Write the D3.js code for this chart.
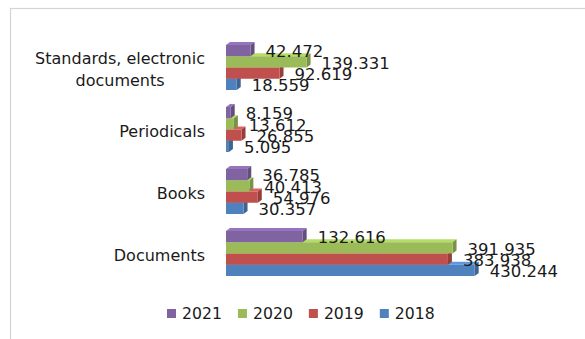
<!DOCTYPE html>
<html>
<head>
<meta charset="utf-8">
<script src="https://cdn.jsdelivr.net/npm/d3@7"></script>
<style>
  body { margin: 0; background: #fff; }
  text { font-family: "DejaVu Sans", sans-serif; fill: #1a1a1a; }
</style>
</head>
<body>
<div id="chart"></div>
<script>
// categories top to bottom, series top to bottom inside each group
var categories = ['Standards, electronic documents', 'Periodicals', 'Books', 'Documents'];
var years = ['2021', '2020', '2019', '2018'];
var legendYears = ['2021', '2020', '2019', '2018'];

var v2021 = [42.472, 8.159, 36.785, 132.616];
var v2020 = [139.331, 13.612, 40.413, 391.935];
var v2019 = [92.619, 26.855, 54.976, 383.938];
var v2018 = [18.559, 5.095, 30.357, 430.244];

var series = {'2021': v2021, '2020': v2020, '2019': v2019, '2018': v2018};
var colors = {'2021': '#8064a2', '2020': '#9bbb59', '2019': '#c0504d', '2018': '#4f81bd'};

var w = 585;
var h = 339;
var depth = {dx: 4, dy: -3};

var svg = d3.select('#chart')
  .append('svg')
  .attr('width', w)
  .attr('height', h);

// chart area border
svg.append('rect')
  .attr('x', 10.5)
  .attr('y', 8.5)
  .attr('width', 700)
  .attr('height', 500)
  .attr('fill', 'none')
  .attr('stroke', '#d4d4d4')
  .attr('stroke-width', 1.2);

var x = d3.scaleLinear()
  .domain([0, 500])
  .range([226, 515]);

var y = d3.scaleBand()
  .domain(categories)
  .range([36.5, 284.5])
  .paddingInner(0.274)
  .paddingOuter(0.137);

var yInner = d3.scaleBand()
  .domain(years)
  .range([0, y.bandwidth()]);

var rows = [];
categories.forEach(function(c, i) {
  years.forEach(function(yr) {
    rows.push({cat: c, year: yr, value: series[yr][i]});
  });
});
// draw bottom series first so upper bars sit on top
rows.sort(function(a, b) { return years.indexOf(b.year) - years.indexOf(a.year); });

var bars = svg.append('g');

rows.forEach(function(d) {
  var x0 = x(0), x1 = x(d.value);
  var y0 = y(d.cat) + yInner(d.year), bh = yInner.bandwidth();
  var c = d3.color(colors[d.year]);
  var g = bars.append('g');
  // top face
  g.append('path')
    .attr('d', 'M' + x0 + ',' + y0 + 'L' + (x0 + depth.dx) + ',' + (y0 + depth.dy) +
      'L' + (x1 + depth.dx) + ',' + (y0 + depth.dy) + 'L' + x1 + ',' + y0 + 'Z')
    .attr('fill', c.brighter(0.45));
  // side face
  g.append('path')
    .attr('d', 'M' + x1 + ',' + y0 + 'L' + (x1 + depth.dx) + ',' + (y0 + depth.dy) +
      'L' + (x1 + depth.dx) + ',' + (y0 + bh + depth.dy) + 'L' + x1 + ',' + (y0 + bh) + 'Z')
    .attr('fill', c.darker(0.7));
  // front face
  g.append('rect')
    .attr('x', x0)
    .attr('y', y0)
    .attr('width', x1 - x0)
    .attr('height', bh)
    .attr('fill', c);
});

// value labels
svg.append('g')
  .selectAll('text')
  .data(rows)
  .enter()
  .append('text')
  .attr('x', d => x(d.value) + 15)
  .attr('y', d => y(d.cat) + yInner(d.year) + yInner.bandwidth() / 2 + 1)
  .attr('dy', '0.35em')
  .attr('font-size', 16.5)
  .text(d => d.value.toFixed(3));

// category labels, wrapped lines centred on each other
var wraps = {'Standards, electronic documents': ['Standards, electronic', 'documents']};
categories.forEach(function(c) {
  var lines = wraps[c] || [c];
  var g = svg.append('g');
  var ts = lines.map(function(l, i) {
    return g.append('text')
      .attr('font-size', 16)
      .attr('text-anchor', 'middle')
      .attr('y', y(c) + y.bandwidth() / 2 + 2 + (i - (lines.length - 1) / 2) * 22)
      .attr('dy', '0.35em')
      .text(l);
  });
  var maxW = d3.max(ts, t => t.node().getComputedTextLength());
  ts.forEach(t => t.attr('x', 205 - maxW / 2));
});

// legend
var lx = 167;
var legend = svg.append('g');
legendYears.forEach(function(yr) {
  legend.append('rect')
    .attr('x', lx)
    .attr('y', 309)
    .attr('width', 9)
    .attr('height', 9)
    .attr('fill', colors[yr]);
  var t = legend.append('text')
    .attr('x', lx + 15)
    .attr('y', 313.5)
    .attr('dy', '0.35em')
    .attr('font-size', 15.7)
    .text(yr);
  lx += 15 + t.node().getComputedTextLength() + 16;
});
</script>
</body>
</html>
